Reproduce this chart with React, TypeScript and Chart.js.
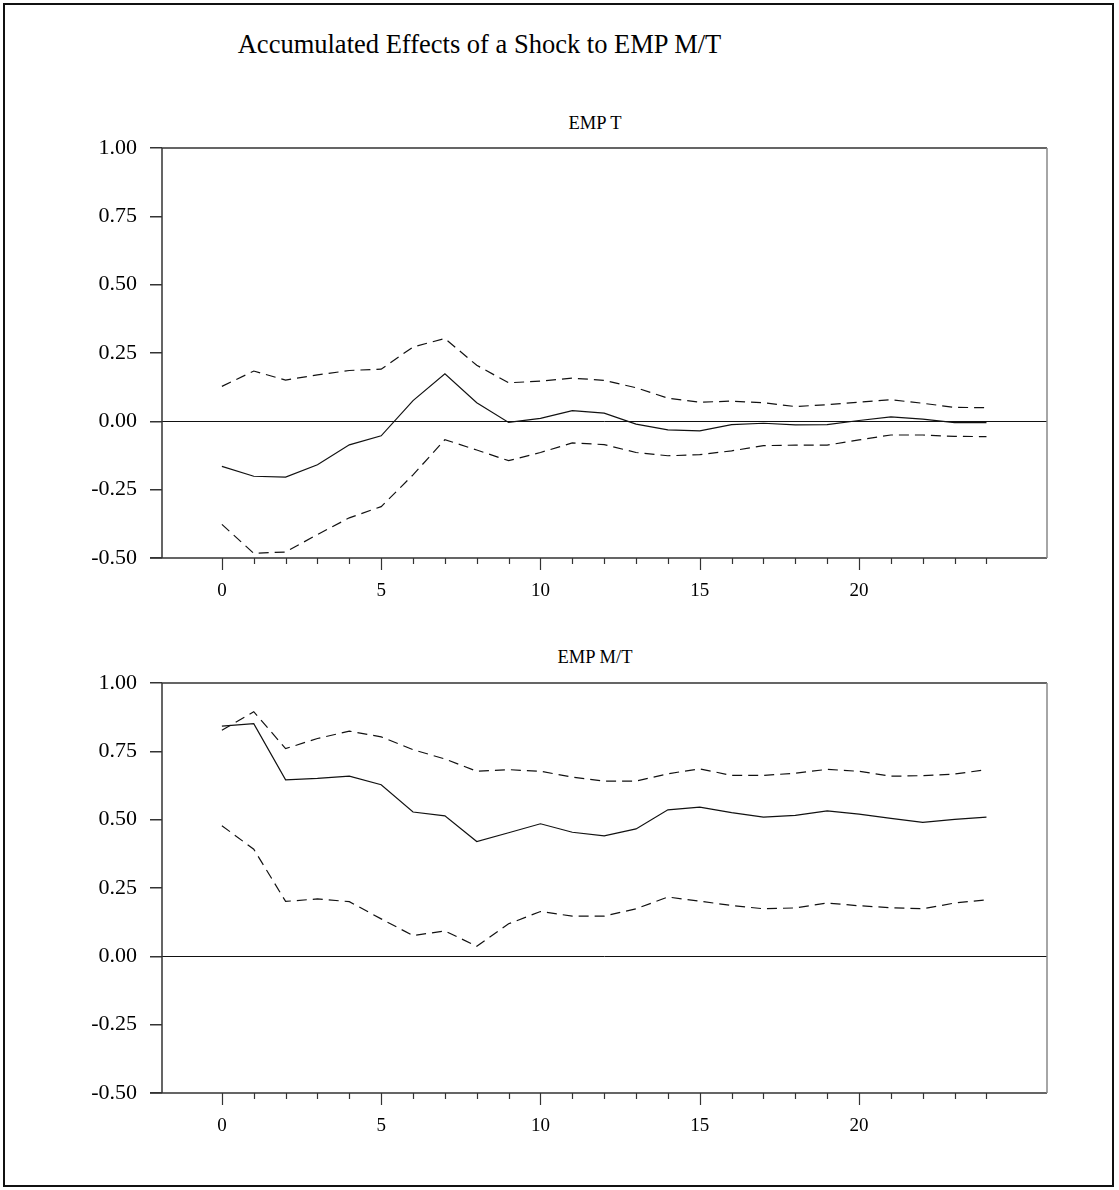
import React, { useEffect, useRef } from "react";
import { Chart, registerables } from "chart.js";

Chart.register(...registerables);

const horizon = [0, 1, 2, 3, 4, 5, 6, 7, 8, 9, 10, 11, 12, 13, 14, 15, 16, 17, 18, 19, 20, 21, 22, 23, 24];
const majorTicks = [0, 5, 10, 15, 20];
const yTicks = [-0.5, -0.25, 0, 0.25, 0.5, 0.75, 1.0];

const empTMid = [-0.165, -0.201, -0.204, -0.159, -0.086, -0.053, 0.076, 0.174, 0.068, -0.004, 0.011, 0.039, 0.03, -0.01, -0.031, -0.035, -0.012, -0.007, -0.013, -0.012, 0.003, 0.016, 0.008, -0.005, -0.005];
const empTUpper = [0.128, 0.184, 0.151, 0.17, 0.186, 0.191, 0.272, 0.303, 0.205, 0.141, 0.147, 0.158, 0.15, 0.123, 0.085, 0.07, 0.074, 0.068, 0.054, 0.061, 0.07, 0.079, 0.066, 0.051, 0.05];
const empTLower = [-0.377, -0.483, -0.478, -0.414, -0.353, -0.312, -0.196, -0.067, -0.105, -0.144, -0.114, -0.079, -0.085, -0.114, -0.126, -0.122, -0.108, -0.089, -0.087, -0.087, -0.068, -0.05, -0.05, -0.055, -0.056];

const empMTMid = [0.842, 0.851, 0.646, 0.651, 0.659, 0.628, 0.528, 0.514, 0.42, 0.452, 0.485, 0.454, 0.441, 0.466, 0.536, 0.546, 0.526, 0.509, 0.516, 0.532, 0.52, 0.505, 0.49, 0.501, 0.509];
const empMTUpper = [0.827, 0.895, 0.76, 0.797, 0.824, 0.803, 0.756, 0.722, 0.677, 0.683, 0.677, 0.656, 0.641, 0.641, 0.668, 0.686, 0.662, 0.662, 0.67, 0.684, 0.677, 0.659, 0.661, 0.667, 0.683];
const empMTLower = [0.478, 0.392, 0.201, 0.21, 0.2, 0.137, 0.076, 0.093, 0.037, 0.119, 0.164, 0.147, 0.147, 0.174, 0.217, 0.202, 0.186, 0.174, 0.177, 0.195, 0.185, 0.178, 0.174, 0.195, 0.207];

const SERIF = "'Liberation Serif', 'Times New Roman', serif";

const framePlugin = {
  id: "frame",
  beforeDatasetsDraw(chart: any) {
    const { ctx, chartArea: ca, scales } = chart;
    const y0 = scales.y.getPixelForValue(0);
    ctx.save();
    ctx.strokeStyle = "#111";
    ctx.lineWidth = 1;
    ctx.beginPath();
    ctx.moveTo(ca.left, Math.round(y0) + 0.5);
    ctx.lineTo(ca.right, Math.round(y0) + 0.5);
    ctx.stroke();
    ctx.restore();
  },
  afterDraw(chart: any) {
    const { ctx, chartArea: ca, scales } = chart;
    ctx.save();
    ctx.lineWidth = 1.5;
    ctx.strokeStyle = "#333";
    ctx.beginPath();
    ctx.moveTo(ca.left, ca.bottom);
    ctx.lineTo(ca.left, ca.top);
    ctx.lineTo(ca.right, ca.top);
    ctx.moveTo(ca.left - 12, ca.bottom);
    ctx.lineTo(ca.right, ca.bottom);
    ctx.stroke();
    ctx.strokeStyle = "#888";
    ctx.beginPath();
    ctx.moveTo(ca.right, ca.top);
    ctx.lineTo(ca.right, ca.bottom);
    ctx.stroke();
    ctx.strokeStyle = "#333";
    ctx.lineWidth = 1.2;
    ctx.beginPath();
    for (const h of horizon) {
      const x = Math.round(scales.x.getPixelForValue(h)) + 0.5;
      const len = majorTicks.includes(h) ? 12 : 6;
      ctx.moveTo(x, ca.bottom);
      ctx.lineTo(x, ca.bottom + len);
    }
    ctx.stroke();
    ctx.restore();
  },
};

function Panel({ top, mid, upper, lower }: { top: number; mid: number[]; upper: number[]; lower: number[] }) {
  const ref = useRef<HTMLCanvasElement>(null);
  useEffect(() => {
    const toPts = (arr: number[]) => horizon.map((h, i) => ({ x: h, y: arr[i] }));
    const common = { pointRadius: 0, borderColor: "#111", borderWidth: 1.2, tension: 0, fill: false };
    const chart = new Chart(ref.current as HTMLCanvasElement, {
      type: "line",
      data: {
        datasets: [
          { ...common, data: toPts(mid) },
          { ...common, data: toPts(upper), borderDash: [10, 6] },
          { ...common, data: toPts(lower), borderDash: [10, 6] },
        ],
      },
      options: {
        responsive: false,
        animation: false,
        layout: { padding: { top: 8, right: 72, bottom: 0, left: 0 } },
        plugins: { legend: { display: false }, tooltip: { enabled: false }, title: { display: false } },
        scales: {
          x: {
            type: "linear",
            min: -1.88,
            max: 25.9,
            afterBuildTicks: (s: any) => {
              s.ticks = majorTicks.map((v) => ({ value: v }));
            },
            afterFit: (s: any) => {
              s.height = 55;
              s.paddingLeft = 0;
              s.paddingRight = 0;
            },
            grid: { display: false, drawTicks: false },
            border: { display: false },
            ticks: {
              font: { family: SERIF, size: 19 },
              color: "#000",
              padding: 22,
              maxRotation: 0,
              autoSkip: false,
            },
          },
          y: {
            type: "linear",
            min: -0.5,
            max: 1.0,
            afterBuildTicks: (s: any) => {
              s.ticks = yTicks.map((v) => ({ value: v }));
            },
            afterFit: (s: any) => {
              s.width = 162;
              s.paddingTop = 0;
              s.paddingBottom = 0;
            },
            grid: { drawOnChartArea: false, drawTicks: true, tickLength: 12, color: "#333", lineWidth: 1.5 },
            border: { display: false },
            ticks: {
              callback: (v: any) => Number(v).toFixed(2),
              font: { family: SERIF, size: 22 },
              color: "#000",
              padding: 13,
            },
          },
        },
      } as any,
      plugins: [framePlugin],
    });
    return () => chart.destroy();
  }, []);
  return (
    <canvas
      ref={ref}
      width={1119}
      height={473}
      style={{ position: "absolute", left: 0, top, width: 1119, height: 473 }}
    />
  );
}

export default function App() {
  return (
    <div style={{ position: "absolute", left: 0, top: 0, width: 1119, height: 1190, background: "#fff", fontFamily: SERIF }}>
      <div
        style={{
          position: "absolute",
          left: 3,
          top: 3,
          width: 1111,
          height: 1184,
          border: "2px solid #111",
          boxSizing: "border-box",
        }}
      />
      <div
        style={{
          position: "absolute",
          left: 0,
          width: 959,
          top: 31,
          textAlign: "center",
          fontSize: 26.5,
          lineHeight: 1,
          color: "#000",
          whiteSpace: "nowrap",
        }}
      >
        Accumulated Effects of a Shock to EMP M/T
      </div>
      <div style={{ position: "absolute", left: 0, width: 1190, top: 114, textAlign: "center", fontSize: 18.5, lineHeight: 1, color: "#000" }}>
        EMP T
      </div>
      <div style={{ position: "absolute", left: 0, width: 1190, top: 648, textAlign: "center", fontSize: 18.5, lineHeight: 1, color: "#000" }}>
        EMP M/T
      </div>
      <Panel top={140} mid={empTMid} upper={empTUpper} lower={empTLower} />
      <Panel top={675} mid={empMTMid} upper={empMTUpper} lower={empMTLower} />
    </div>
  );
}
